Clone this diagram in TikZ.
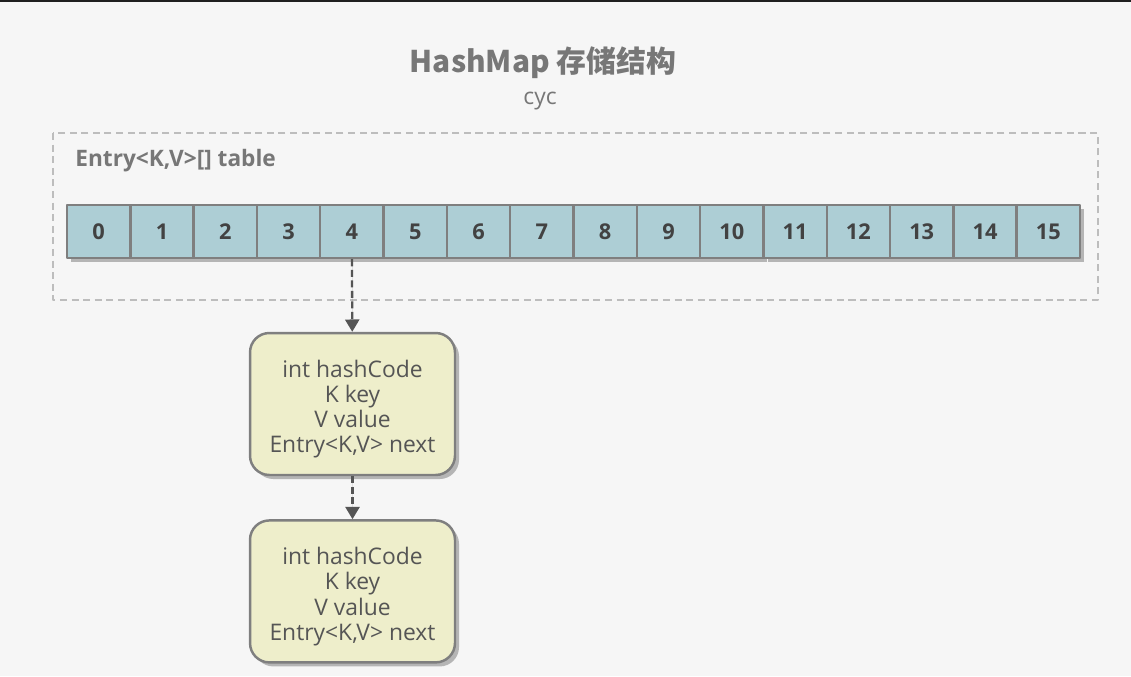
\documentclass[tikz,border=0pt]{standalone}
\usepackage{fontspec}
\setmainfont{Open Sans}
\newfontfamily\cjk{Noto Sans CJK SC}
\usetikzlibrary{positioning,shadows,arrows.meta}
\definecolor{bgcol}{HTML}{F6F6F6}
\definecolor{framecol}{HTML}{BDBDBD}
\definecolor{labelcol}{HTML}{777777}
\definecolor{cellcol}{HTML}{ADCED5}
\definecolor{edgecol}{HTML}{7F7F7F}
\definecolor{numcol}{HTML}{424242}
\definecolor{entrycol}{HTML}{EEEECB}
\definecolor{textcol}{HTML}{555555}
\definecolor{shadecol}{HTML}{B5B5B5}
\newcommand{\entrytext}{\rule{0pt}{15.6pt}int hashCode\\K key\\V value\\Entry<K,V> next}
\begin{document}
\begin{tikzpicture}[x=0.02cm, y=-0.02cm, line join=round, >={Triangle[length=7pt,width=8pt]},
  cell/.style={draw=edgecol, line width=1.4pt, fill=cellcol, minimum width=1.266cm, minimum height=1.06cm,
    inner sep=0pt, text=numcol, font=\fontsize{12.4}{14}\selectfont\bfseries,
    drop shadow={shadow xshift=2.3pt, shadow yshift=-2.3pt, fill=shadecol, opacity=1}},
  entry/.style={draw=edgecol, line width=1.4pt, fill=entrycol, rounded corners=11pt, minimum width=4.1cm,
    minimum height=2.84cm, inner sep=0pt, align=center, text=textcol, font=\fontsize{13}{14.4}\selectfont,
    drop shadow={shadow xshift=2.3pt, shadow yshift=-2.3pt, fill=shadecol, opacity=1}},
  link/.style={->, draw=textcol, fill=textcol, line width=1.3pt, dash pattern=on 4pt off 2pt}]
 \useasboundingbox[fill=bgcol] (0,0) rectangle (1131,676);
 \fill[black!88] (0,0) rectangle (1131,1.6);
 \node[text=labelcol, font=\cjk\bfseries\fontsize{17}{20}\selectfont] (title) at (543,63) {HashMap 存储结构};
 \node[text=labelcol, font=\fontsize{13}{15}\selectfont] (author) at (540,101) {cyc};
 \draw[framecol, line width=1.1pt, dash pattern=on 4pt off 2.6pt] (53,133) rectangle (1098,300);
 \node[anchor=west, text=labelcol, font=\fontsize{12.9}{15}\selectfont\bfseries, inner sep=0pt] (tlabel) at (75,161) {Entry<K,V>[] table};
 \foreach \i in {0,...,15}
  \node[cell] (c\i) at ({67+(\i+0.5)*63.3125},231.5) {\i};
 \node[entry] (e1) at (352.5,404) {\entrytext};
 \node[entry, below=0.86cm of e1] (e2) {\entrytext};
 \draw[link] (c4) -- (e1);
 \draw[link] (e1) -- (e2);
\end{tikzpicture}
\end{document}
